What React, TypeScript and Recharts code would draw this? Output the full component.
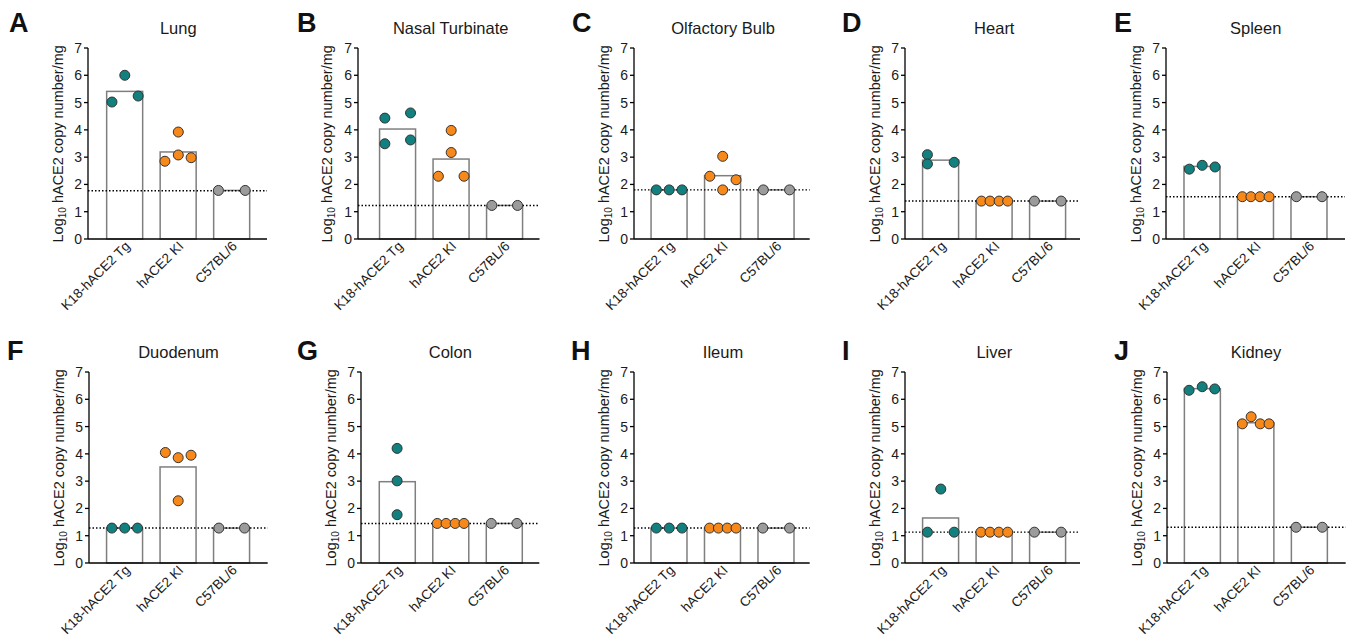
import React from 'react';
import { ComposedChart, Bar, Scatter, XAxis, YAxis, ReferenceLine } from 'recharts';

// ---------- data ----------
const groups = ['K18-hACE2 Tg', 'hACE2 KI', 'C57BL/6'];
const groupColors = ['#12807e', '#f7881a', '#9b9b9b'];
const yTicks = [0, 1, 2, 3, 4, 5, 6, 7];

const panelLetters = ['A', 'B', 'C', 'D', 'E', 'F', 'G', 'H', 'I', 'J'];
const panelTitles = ['Lung', 'Nasal Turbinate', 'Olfactory Bulb', 'Heart', 'Spleen', 'Duodenum', 'Colon', 'Ileum', 'Liver', 'Kidney'];

// bar heights (group means) per panel
const lungMeans = [5.41, 3.19, 1.78];
const nasalMeans = [4.03, 2.93, 1.23];
const olfactoryMeans = [1.8, 2.32, 1.8];
const heartMeans = [2.89, 1.39, 1.39];
const spleenMeans = [2.66, 1.55, 1.55];
const duodenumMeans = [1.28, 3.52, 1.28];
const colonMeans = [2.98, 1.45, 1.45];
const ileumMeans = [1.28, 1.28, 1.28];
const liverMeans = [1.65, 1.13, 1.13];
const kidneyMeans = [6.39, 5.14, 1.31];

// limit of detection per panel
const lodValues = [1.77, 1.23, 1.8, 1.39, 1.55, 1.28, 1.45, 1.28, 1.13, 1.31];

// individual animals per panel, per group
const lungValues = [[5.02, 6.0, 5.24], [2.85, 3.92, 3.08, 2.98], [1.78, 1.78]];
const nasalValues = [[4.43, 3.49, 4.62, 3.63], [2.3, 3.98, 3.17, 2.3], [1.23, 1.23]];
const olfactoryValues = [[1.8, 1.8, 1.8], [2.3, 3.03, 1.8, 2.17], [1.8, 1.8]];
const heartValues = [[3.09, 2.75, 2.81], [1.39, 1.39, 1.39, 1.39], [1.39, 1.39]];
const spleenValues = [[2.56, 2.7, 2.64], [1.55, 1.55, 1.55, 1.55], [1.55, 1.55]];
const duodenumValues = [[1.28, 1.28, 1.28], [4.05, 3.86, 2.28, 3.95], [1.28, 1.28]];
const colonValues = [[4.2, 3.01, 1.77], [1.45, 1.45, 1.45, 1.45], [1.45, 1.45]];
const ileumValues = [[1.28, 1.28, 1.28], [1.28, 1.28, 1.28, 1.28], [1.28, 1.28]];
const liverValues = [[1.13, 2.71, 1.13], [1.13, 1.13, 1.13, 1.13], [1.13, 1.13]];
const kidneyValues = [[6.33, 6.46, 6.38], [5.1, 5.36, 5.1, 5.1], [1.31, 1.31]];

// horizontal scatter (jitter) of each animal within its group, in category units
const lungOffsets = [[-0.24, 0, 0.25], [-0.25, 0, 0, 0.24], [-0.25, 0.25]];
const nasalOffsets = [[-0.24, -0.24, 0.24, 0.24], [-0.24, 0, 0, 0.24], [-0.24, 0.24]];
const olfactoryOffsets = [[-0.24, 0, 0.24], [-0.24, 0, 0, 0.25], [-0.24, 0.25]];
const heartOffsets = [[-0.25, -0.25, 0.25], [-0.24, -0.08, 0.09, 0.25], [-0.25, 0.25]];
const spleenOffsets = [[-0.24, 0, 0.24], [-0.25, -0.09, 0.08, 0.25], [-0.24, 0.24]];
const duodenumOffsets = [[-0.24, 0, 0.24], [-0.24, 0, 0, 0.24], [-0.24, 0.24]];
const colonOffsets = [[0, 0, 0], [-0.25, -0.085, 0.085, 0.25], [-0.24, 0.24]];
const ileumOffsets = [[-0.24, 0, 0.24], [-0.245, -0.08, 0.085, 0.25], [-0.25, 0.25]];
const liverOffsets = [[-0.25, 0, 0.25], [-0.25, -0.08, 0.085, 0.25], [-0.25, 0.25]];
const kidneyOffsets = [[-0.245, 0, 0.235], [-0.25, -0.085, 0.085, 0.25], [-0.245, 0.245]];

const panelMeans = [lungMeans, nasalMeans, olfactoryMeans, heartMeans, spleenMeans, duodenumMeans, colonMeans, ileumMeans, liverMeans, kidneyMeans];
const panelValues = [lungValues, nasalValues, olfactoryValues, heartValues, spleenValues, duodenumValues, colonValues, ileumValues, liverValues, kidneyValues];
const panelOffsets = [lungOffsets, nasalOffsets, olfactoryOffsets, heartOffsets, spleenOffsets, duodenumOffsets, colonOffsets, ileumOffsets, liverOffsets, kidneyOffsets];

// ---------- layout ----------
const panelAxisX = [88, 357.5, 634.3, 905, 1166, 89.3, 360.7, 634.3, 905, 1167.3];
const panelPad = [36.8, 39.7, 35.2, 35.8, 36.2, 35.7, 36.1, 35.2, 35.8, 35.2];
const panelEndX = [267, 539, 810, 1080, 1345, 268, 539, 810, 1080, 1346];
const letterX = [9, 297, 572, 842, 1114, 7, 297, 571, 842, 1114];
const rowPlotTop = [48.3, 372.3];
const rowLetterBaseline = [32, 360];
const rowTitleBaseline = [33.5, 357.5];

const SPACING = 53.5;
const PLOT_H = 191;
const Y_AXIS_W = 40;
const TOP_M = 10;
const X_AXIS_H = 88;
const BAR_W = 36;
const FONT = "Arial, 'Liberation Sans', Helvetica, sans-serif";

const XTick = (props: any) => {
  const { x, y, payload } = props;
  const ax = x + 6;
  const ay = y + 8;
  return (
    <text x={ax} y={ay} textAnchor="end" fontSize={13.5} fill="#1a1a1a" fontFamily={FONT} transform={`rotate(-45 ${ax} ${ay})`}>
      {groups[payload.value]}
    </text>
  );
};

// bar drawn centred on the library-computed category position with a fixed pixel width
const BarShape = (p: any) => {
  const cx = p.x + p.width / 2;
  return <rect x={cx - BAR_W / 2} y={p.y} width={BAR_W} height={p.height} fill="#ffffff" stroke="#7f7f7f" strokeWidth={1.5} />;
};

function Panel({ i }: { i: number }) {
  const row = i < 5 ? 0 : 1;
  const axisX = panelAxisX[i];
  const plotW = panelEndX[i] - axisX;
  const dMin = -panelPad[i] / SPACING;
  const dMax = dMin + plotW / SPACING;
  const left = axisX - Y_AXIS_W;
  const top = rowPlotTop[row] - TOP_M;
  const w = Y_AXIS_W + plotW + 2;
  const h = TOP_M + PLOT_H + X_AXIS_H;
  const bars = groups.map((_, gi) => ({ x: gi, mean: panelMeans[i][gi] }));
  return (
    <div style={{ position: 'absolute', left, top }}>
      <ComposedChart width={w} height={h} data={bars} margin={{ top: TOP_M, right: 2, bottom: 0, left: 0 }}>
        <XAxis
          type="number"
          dataKey="x"
          domain={[dMin, dMax]}
          allowDataOverflow
          ticks={[0, 1, 2]}
          interval={0}
          tickLine={false}
          tickSize={0}
          tickMargin={0}
          height={X_AXIS_H}
          axisLine={{ stroke: '#000', strokeWidth: 1.3 }}
          tick={XTick}
        />
        <YAxis
          type="number"
          domain={[0, 7]}
          ticks={yTicks}
          interval={0}
          width={Y_AXIS_W}
          tickSize={4}
          tickMargin={2}
          axisLine={{ stroke: '#000', strokeWidth: 1.3 }}
          tickLine={{ stroke: '#000', strokeWidth: 1.3 }}
          tick={{ fontSize: 14, fill: '#1a1a1a', fontFamily: FONT }}
        />
        <Bar dataKey="mean" fill="#ffffff" stroke="#7f7f7f" strokeWidth={1.5} shape={BarShape} isAnimationActive={false} />
        <ReferenceLine y={lodValues[i]} stroke="#000" strokeDasharray="1.5 2" strokeWidth={1.4} />
        {groups.map((_, gi) => {
          const pts = panelValues[i][gi].map((v, k) => ({ x: gi + panelOffsets[i][gi][k], y: v }));
          const color = groupColors[gi];
          return (
            <Scatter
              key={gi}
              data={pts}
              dataKey="y"
              isAnimationActive={false}
              shape={(p: any) => <circle cx={p.cx} cy={p.cy} r={5} fill={color} stroke="#333" strokeWidth={1} />}
            />
          );
        })}
      </ComposedChart>
    </div>
  );
}

export default function App() {
  const idx = [0, 1, 2, 3, 4, 5, 6, 7, 8, 9];
  return (
    <div style={{ position: 'absolute', left: 0, top: 0, width: 1350, height: 639, overflow: 'hidden', background: '#fff', fontFamily: FONT }}>
      {idx.map((i) => (
        <Panel key={i} i={i} />
      ))}
      <svg width={1350} height={639} style={{ position: 'absolute', left: 0, top: 0, pointerEvents: 'none' }}>
        {idx.map((i) => {
          const row = i < 5 ? 0 : 1;
          const axisX = panelAxisX[i];
          const midX = axisX + panelPad[i] + SPACING;
          const lx = axisX - 25;
          const ly = rowPlotTop[row] + PLOT_H / 2;
          return (
            <g key={i} fontFamily={FONT} fill="#1a1a1a">
              <text x={letterX[i]} y={rowLetterBaseline[row]} fontSize={27} fontWeight="bold" fill="#111">
                {panelLetters[i]}
              </text>
              <text x={midX} y={rowTitleBaseline[row]} fontSize={16.5} textAnchor="middle">
                {panelTitles[i]}
              </text>
              <text x={lx} y={ly} fontSize={14.5} textAnchor="middle" transform={`rotate(-90 ${lx} ${ly})`}>
                Log
                <tspan fontSize={10} dy={3}>10</tspan>
                <tspan dy={-3}> hACE2 copy number/mg</tspan>
              </text>
            </g>
          );
        })}
      </svg>
    </div>
  );
}
